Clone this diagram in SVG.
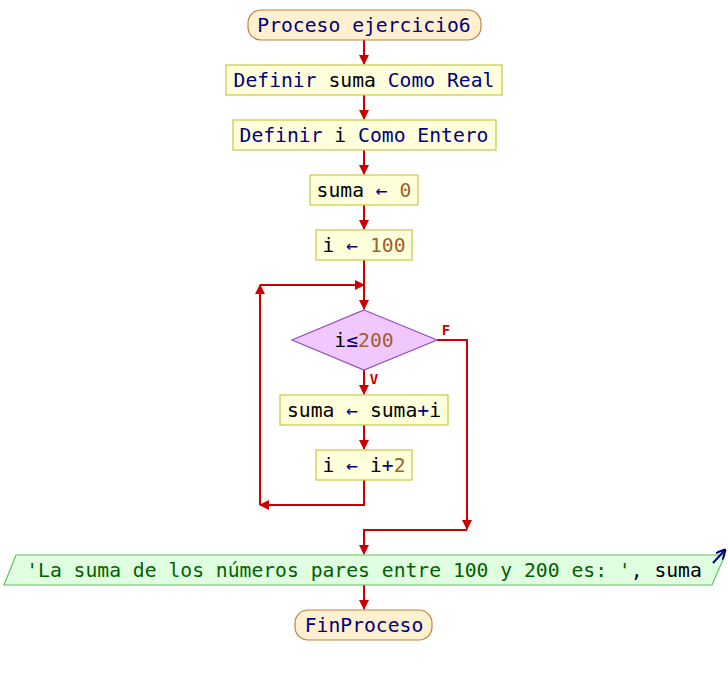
<svg xmlns="http://www.w3.org/2000/svg" width="728" height="675" viewBox="0 0 728 675">
<defs>
<marker id="ah" markerWidth="10" markerHeight="10" refX="9" refY="5" orient="auto" markerUnits="userSpaceOnUse"><path d="M0,0 L10,5 L0,10 Z" fill="#cc0000"/></marker>
<marker id="ab" markerWidth="10" markerHeight="10" refX="9" refY="5" orient="auto" markerUnits="userSpaceOnUse"><path d="M0,0 L10,5 L0,10" fill="none" stroke="#000080" stroke-width="2"/></marker>
</defs>
<style>
text{font-family:"DejaVu Sans Mono","Liberation Mono",monospace;font-size:19.7px;text-anchor:middle}
.t{fill:#fff0d0;stroke:#c08040;stroke-width:1.2}
.b{fill:#ffffdc;stroke:#c8c840;stroke-width:1.2}
.d{fill:#f0c8ff;stroke:#9050c0;stroke-width:1.2}
.o{fill:#e0ffe0;stroke:#60c060;stroke-width:1.2}
.k{fill:#000080}
.v{fill:#000000}
.n{fill:#a0602c}
.s{fill:#006000}
.c{fill:none;stroke:#cc0000;stroke-width:2}
.lb{fill:#cc0000;font-size:14px;font-weight:bold}
</style>
<g id="connectors">
<path class="c" d="M364,40 V64" marker-end="url(#ah)"/>
<path class="c" d="M364,95 V119" marker-end="url(#ah)"/>
<path class="c" d="M364,150 V174" marker-end="url(#ah)"/>
<path class="c" d="M364,205 V229" marker-end="url(#ah)"/>
<path class="c" d="M364,260 V309" marker-end="url(#ah)"/>
<path class="c" d="M260,505 V285" marker-end="url(#ah)"/>
<path class="c" d="M260,285 H364" marker-end="url(#ah)"/>
<path class="c" d="M364,370 V394" marker-end="url(#ah)"/>
<path class="c" d="M364,425 V449" marker-end="url(#ah)"/>
<path class="c" d="M364,480 V505 H260" marker-end="url(#ah)"/>
<path class="c" d="M437,340 H467 V529" marker-end="url(#ah)"/>
<path class="c" d="M467,530 H364 V554" marker-end="url(#ah)"/>
<path class="c" d="M364,585 V609" marker-end="url(#ah)"/>
<text class="lb" x="446" y="335">F</text>
<text class="lb" x="374" y="384">V</text>
</g>
<g id="inicio"><rect class="t" x="248" y="10" width="233" height="30" rx="13"/><text x="364" y="32" class="k">Proceso ejercicio6</text></g>
<g id="def_suma"><rect class="b" x="226" y="65" width="276" height="30"/><text x="364" y="87"><tspan class="k">Definir </tspan><tspan class="v">suma</tspan><tspan class="k"> Como Real</tspan></text></g>
<g id="def_i"><rect class="b" x="233" y="120" width="263" height="30"/><text x="364" y="142"><tspan class="k">Definir </tspan><tspan class="v">i</tspan><tspan class="k"> Como Entero</tspan></text></g>
<g id="suma0"><rect class="b" x="310" y="175" width="108" height="30"/><text x="364" y="197"><tspan class="v">suma </tspan><tspan class="k">←</tspan><tspan class="n"> 0</tspan></text></g>
<g id="i100"><rect class="b" x="316" y="230" width="96" height="30"/><text x="364" y="252"><tspan class="v">i </tspan><tspan class="k">←</tspan><tspan class="n"> 100</tspan></text></g>
<g id="cond"><path class="d" d="M364,310 L437,340 L364,370 L292,340 Z"/><text x="364" y="347"><tspan class="v">i</tspan><tspan class="k">≤</tspan><tspan class="n">200</tspan></text></g>
<g id="acum"><rect class="b" x="280" y="395" width="168" height="30"/><text x="364" y="417"><tspan class="v">suma </tspan><tspan class="k">←</tspan><tspan class="v"> suma</tspan><tspan class="k">+</tspan><tspan class="v">i</tspan></text></g>
<g id="inc"><rect class="b" x="316" y="450" width="96" height="30"/><text x="364" y="472"><tspan class="v">i </tspan><tspan class="k">←</tspan><tspan class="v"> i</tspan><tspan class="k">+</tspan><tspan class="n">2</tspan></text></g>
<g id="escribir"><path class="o" d="M16,555 L725,555 L712,585 L4,585 Z"/><text x="364" y="577"><tspan class="s">'La suma de los números pares entre 100 y 200 es: '</tspan><tspan class="v">, suma</tspan></text><path d="M713,563 L725,550" fill="none" stroke="#000080" stroke-width="2" marker-end="url(#ab)"/></g>
<g id="fin"><rect class="t" x="295" y="610" width="137" height="30" rx="13"/><text x="364" y="632" class="k">FinProceso</text></g>
</svg>
